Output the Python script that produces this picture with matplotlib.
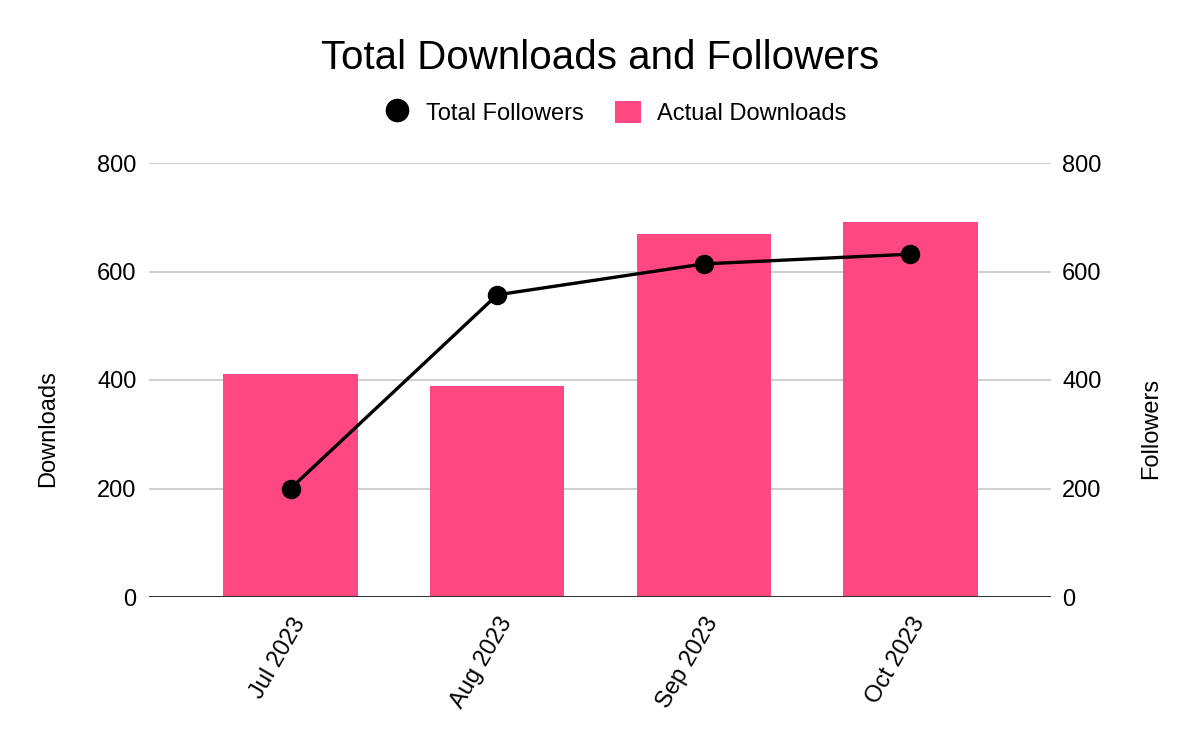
import matplotlib
matplotlib.use("Agg")
import matplotlib.pyplot as plt
from matplotlib.lines import Line2D
from matplotlib.patches import Patch

months = ["Jul 2023", "Aug 2023", "Sep 2023", "Oct 2023"]
downloads = [411, 389, 669, 691]
followers = [200, 557, 614, 632]
yticks = [0, 200, 400, 600, 800]

plt.rcParams['font.family'] = ['Liberation Sans', 'DejaVu Sans']

pink = "#ff4781"
fs = 17
fig = plt.figure(figsize=(12, 7.42), dpi=100)
ax = fig.add_axes([149/1200, 145/742, 902/1200, 434/742])
x = list(range(len(months)))
ax.bar(x, downloads, width=0.65, color=pink, zorder=2)
ax.set_xlim(-0.685, 3.68)
ax.set_ylim(0, 800)
ax.set_yticks(yticks)
ax.set_yticklabels([str(v) for v in yticks], fontsize=fs)
ax.grid(axis='y', color='#cccccc', linewidth=1.3, zorder=0)
ax.axhline(0, color='#333333', linewidth=2.2, zorder=3)
for s in ax.spines.values():
    s.set_visible(False)
ax.tick_params(axis='y', length=0, pad=9)
ax.set_xticks(x)
ax.set_xticklabels(months, rotation=60, ha='right', rotation_mode='anchor', fontsize=fs)
ax.tick_params(axis='x', length=0, pad=12)
ax.set_ylabel("Downloads", fontsize=fs)
ax.yaxis.set_label_coords(-90/902, 0.389)

ax2 = ax.twinx()
ax2.set_ylim(0, 800)
ax2.set_yticks(yticks)
ax2.set_yticklabels([str(v) for v in yticks], fontsize=fs)
ax2.tick_params(axis='y', length=0, pad=8)
for s in ax2.spines.values():
    s.set_visible(False)
ax2.plot(x, followers, color='black', linewidth=2.4, marker='o', markersize=13, zorder=4)
ax2.set_ylabel("Followers", fontsize=fs)
ax2.yaxis.set_label_coords(1 + 89/902, 0.389)

fig.text(0.5, 1 - 58/742, "Total Downloads and Followers", ha='center', va='center', fontsize=29)

handles = [Line2D([0], [0], marker='o', color='none', markerfacecolor='black', markeredgecolor='black', markersize=16),
           Patch(facecolor=pink, edgecolor='none')]
fig.legend(handles, ["Total Followers", "Actual Downloads"], loc='center', bbox_to_anchor=(615/1200, 1 - 113/742),
           ncol=2, frameon=False, fontsize=fs, handlelength=1.1, handleheight=1.1, columnspacing=1.3, handletextpad=0.7)

fig.savefig("out.png", dpi=100)
